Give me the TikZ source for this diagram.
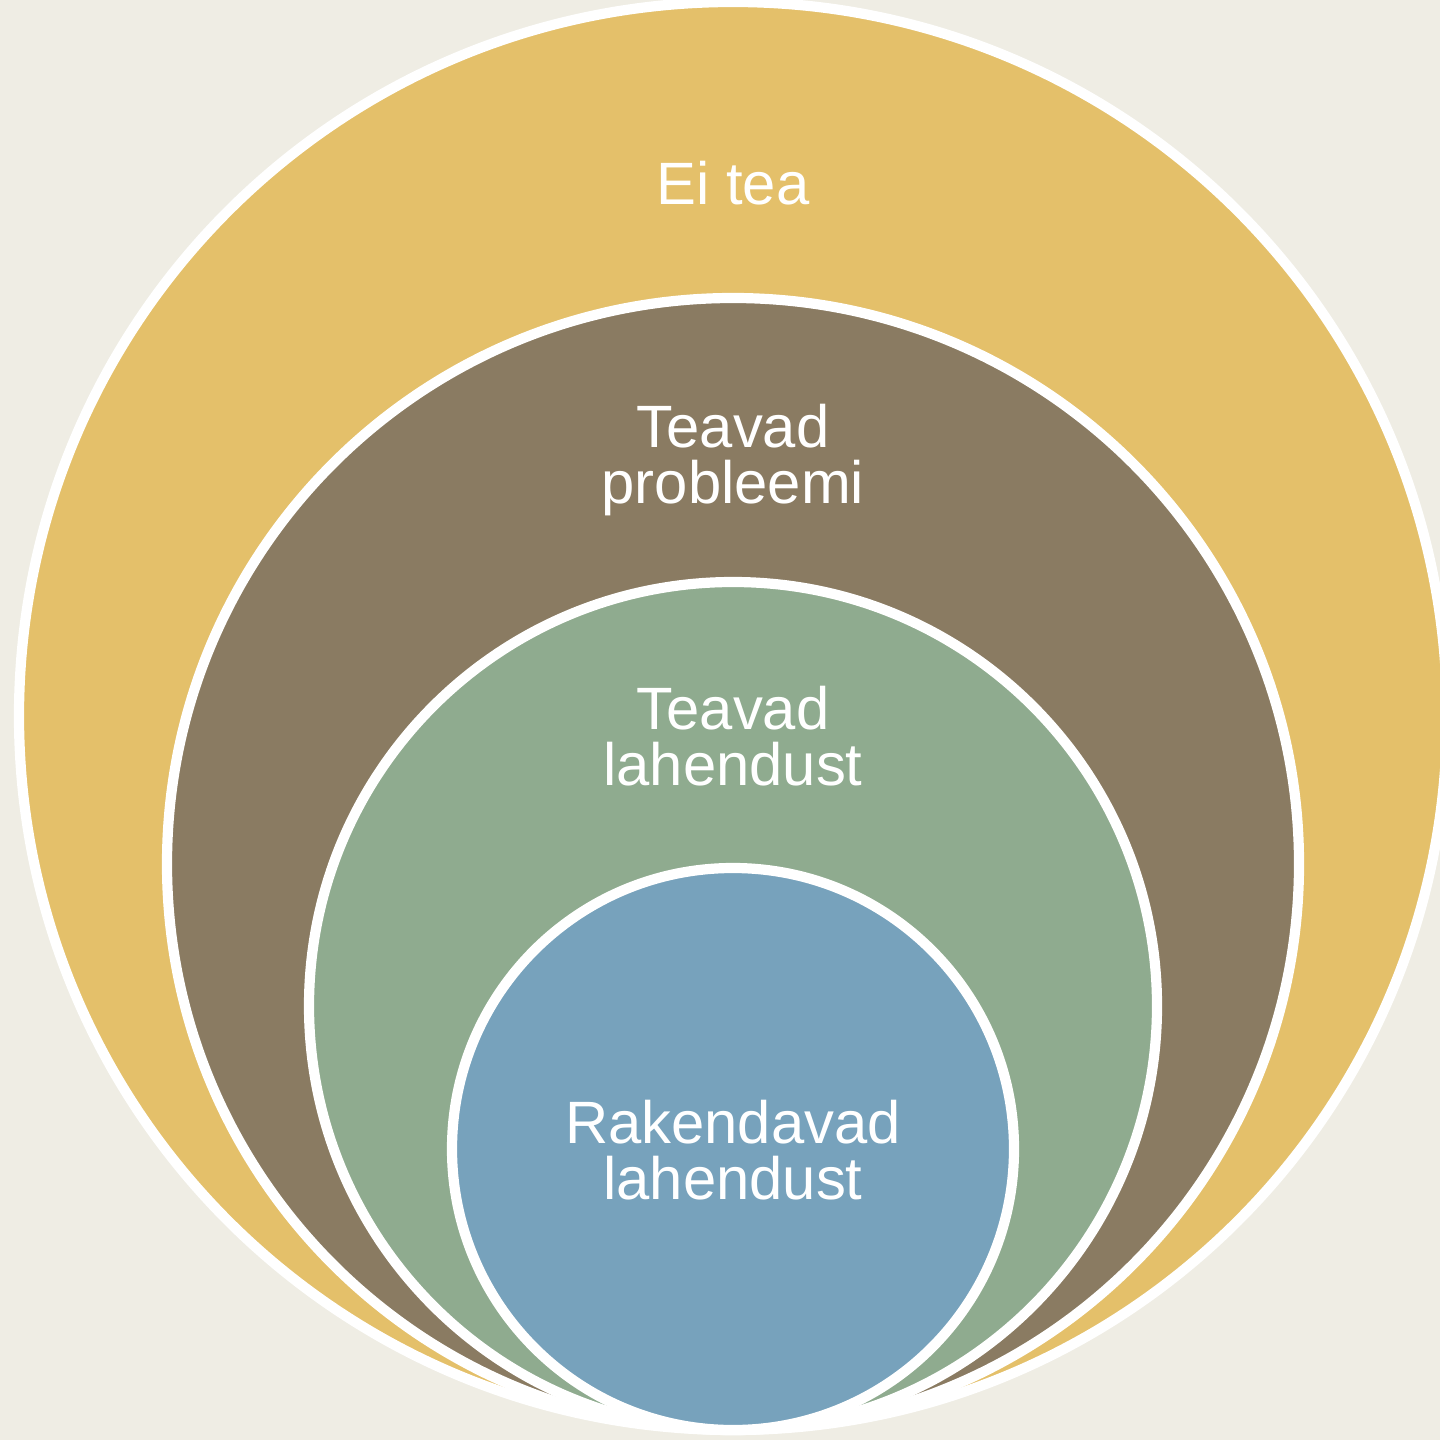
\documentclass[tikz,border=0pt]{standalone}
\usepackage{fontspec}
\setmainfont{Liberation Sans}
\definecolor{bgcol}{HTML}{EFEDE4}
\definecolor{teacol}{HTML}{E4C06A}
\definecolor{probcol}{HTML}{8A7B62}
\definecolor{lahcol}{HTML}{8FAB8F}
\definecolor{rakcol}{HTML}{77A2BC}
\begin{document}
\begin{tikzpicture}[x=0.01cm, y=-0.01cm,
    ring/.style={draw=white, line width=2.9pt},
    every node/.style={text=white, align=center, font=\fontsize{17}{16}\selectfont}]

    % Background
    \fill[bgcol] (0,0) rectangle (1440,1440);
    \useasboundingbox (0,0) rectangle (1440,1440);

    % Nested circles, all touching at the bottom
    \draw[ring, fill=teacol]  (733,716)  circle (714);
    \draw[ring, fill=probcol] (733,864)  circle (566);
    \draw[ring, fill=lahcol]  (733,1006) circle (424);
    \draw[ring, fill=rakcol]  (733,1149) circle (281);

    % Labels
    \node (eitea) at (733,183) {Ei tea};
    \node (probleem) at (733,460) {Teavad\\probleemi};
    \node (lahendus) at (733,736) {Teavad\\lahendust};
    \node (rakendus) at (733,1150) {Rakendavad\\lahendust};

\end{tikzpicture}
\end{document}
